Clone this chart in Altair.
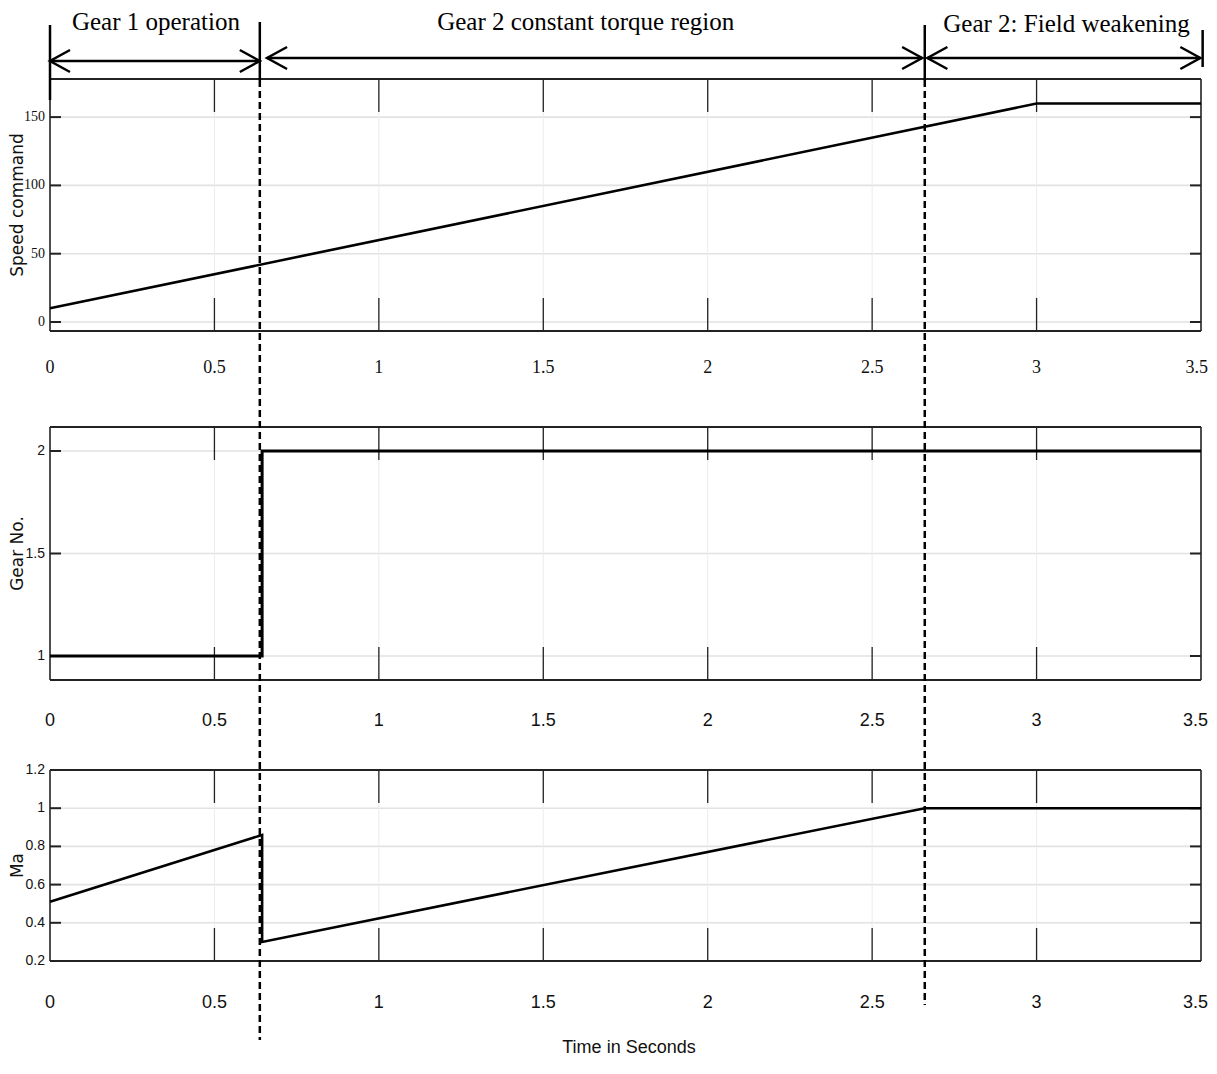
import altair as alt
import pandas as pd

# ---------------- data ----------------
speed_t = [0.0, 3.0, 3.5]
speed_v = [10, 160, 160]

gear_t = [0.0, 0.645, 0.645, 3.5]
gear_v = [1, 1, 2, 2]

ma_t = [0.0, 0.645, 0.645, 2.66, 3.5]
ma_v = [0.51, 0.86, 0.30, 1.0, 1.0]

x_ticks = [0, 0.5, 1, 1.5, 2, 2.5, 3, 3.5]
x_tick_labels = ["0", "0.5", "1", "1.5", "2", "2.5", "3", "3.5"]

speed_ticks = [0, 50, 100, 150]
speed_tick_labels = ["0", "50", "100", "150"]
gear_ticks = [1, 1.5, 2]
gear_tick_labels = ["1", "1.5", "2"]
ma_ticks = [0.2, 0.4, 0.6, 0.8, 1.0, 1.2]
ma_tick_labels = ["0.2", "0.4", "0.6", "0.8", "1", "1.2"]

switch_times = [0.638, 2.66]
region_names = ["Gear 1 operation", "Gear 2 constant torque region", "Gear 2: Field weakening"]
region_start = [0.0, 0.66, 2.668]
region_end = [0.638, 2.652, 3.498]
region_label_t = [0.322, 1.629, 3.091]

x_title = "Time in Seconds"

# ---------------- layout ----------------
W, H = 1151, 1052
XS = alt.Scale(domain=[0, 3.5], nice=False, zero=False)
PX = alt.Scale(domain=[0, H], range=[0, H], nice=False, zero=False)
NARROW = "Liberation Sans Narrow, Arial Narrow, Liberation Sans, Arial, sans-serif"
SERIF = "Liberation Serif, Times New Roman, serif"
DARK = "#222222"


def panel(t, v, dom, rng, ticks, labels, title, tick_font, label_dy, line_w=2.6):
    ys = alt.Scale(domain=dom, range=rng, nice=False, zero=False)
    X = lambda f: alt.X(f, scale=XS, axis=None)
    Y = lambda f: alt.Y(f, scale=ys, axis=None)

    line_df = pd.DataFrame({"t": t, "v": v})
    yt = pd.DataFrame({"v": ticks, "lab": labels})
    xt = pd.DataFrame({"t": x_ticks, "lab": x_tick_labels,
                       "lo": [dom[0]] * len(x_ticks), "hi": [dom[1]] * len(x_ticks)})
    xin = xt.iloc[1:-1]
    xmain = xt.iloc[:-1]
    xlast = xt.iloc[-1:]
    edges_h = pd.DataFrame({"v": [dom[0], dom[1]]})
    edges_v = pd.DataFrame({"t": [0, 3.5], "lo": [dom[0]] * 2, "hi": [dom[1]] * 2})
    ttl = pd.DataFrame({"v": [(dom[0] + dom[1]) / 2], "title": [title]})

    grid_h = alt.Chart(yt).mark_rule(color="#e2e2e2", strokeWidth=1.6).encode(
        y=Y("v:Q"), x=alt.value(0), x2=alt.value(W))
    grid_v = alt.Chart(xin).mark_rule(color="#ececec", strokeWidth=1).encode(
        x=X("t:Q"), y=Y("lo:Q"), y2="hi:Q")
    ticks_bot = alt.Chart(xin).mark_rule(color=DARK, strokeWidth=1.3, y2Offset=-33).encode(
        x=X("t:Q"), y=Y("lo:Q"), y2="lo:Q")
    ticks_top = alt.Chart(xin).mark_rule(color=DARK, strokeWidth=1.3, y2Offset=33).encode(
        x=X("t:Q"), y=Y("hi:Q"), y2="hi:Q")
    yticks_l = alt.Chart(yt).mark_rule(color=DARK, strokeWidth=2).encode(
        y=Y("v:Q"), x=alt.value(0), x2=alt.value(11))
    yticks_r = alt.Chart(yt).mark_rule(color=DARK, strokeWidth=2).encode(
        y=Y("v:Q"), x=alt.value(W - 11), x2=alt.value(W))
    border_h = alt.Chart(edges_h).mark_rule(color=DARK, strokeWidth=2.2).encode(
        y=Y("v:Q"), x=alt.value(0), x2=alt.value(W))
    border_v = alt.Chart(edges_v).mark_rule(color=DARK, strokeWidth=1.6).encode(
        x=X("t:Q"), y=Y("lo:Q"), y2="hi:Q")
    line = alt.Chart(line_df).mark_line(color="black", strokeWidth=line_w).encode(
        x=X("t:Q"), y=Y("v:Q"))
    ylab = alt.Chart(yt).mark_text(align="right", baseline="middle", font=tick_font,
                                   fontSize=14, color="#111111").encode(
        y=Y("v:Q"), x=alt.value(-5), text="lab:N")
    xlab = alt.Chart(xmain).mark_text(align="center", baseline="middle", font=tick_font,
                                      fontSize=18, dy=label_dy, color="#111111").encode(
        x=X("t:Q"), y=Y("lo:Q"), text="lab:N")
    xlab_last = alt.Chart(xlast).mark_text(align="right", baseline="middle", font=tick_font,
                                           fontSize=18, dy=label_dy, dx=7, color="#111111").encode(
        x=X("t:Q"), y=Y("lo:Q"), text="lab:N")
    ytitle = alt.Chart(ttl).mark_text(angle=270, align="center", baseline="alphabetic",
                                      font="DejaVu Sans", fontSize=17, color="#111111").encode(
        y=Y("v:Q"), x=alt.value(-27), text="title:N")

    return alt.layer(grid_h, grid_v, ticks_bot, ticks_top, yticks_l, yticks_r,
                     border_h, border_v, line, ylab, xlab, xlab_last, ytitle)


# plot-area pixel ranges (page y minus 8)
p_speed = panel(speed_t, speed_v, [-6.6, 177.9], [323, 71], speed_ticks, speed_tick_labels,
                "Speed command", SERIF, 37)
p_gear = panel(gear_t, gear_v, [0.883, 2.117], [672, 419], gear_ticks, gear_tick_labels,
               "Gear No.", NARROW, 41, line_w=3)
p_ma = panel(ma_t, ma_v, [0.2, 1.2], [953, 762], ma_ticks, ma_tick_labels,
             "Ma", NARROW, 42)

# ---------------- annotations ----------------
XA = lambda f: alt.X(f, scale=XS, axis=None)
YA = lambda f: alt.Y(f, scale=PX, axis=None)

dash_df = pd.DataFrame({"t": switch_times, "y0": [72, 72], "y1": [1032, 997]})
dashes = alt.Chart(dash_df).mark_rule(color="black", strokeWidth=2.5, strokeDash=[7, 4]).encode(
    x=XA("t:Q"), y=YA("y0:Q"), y2="y1:Q")

bars_df = pd.DataFrame({"t": [0.0, switch_times[0], switch_times[1], 3.505],
                        "y0": [17, 14, 17, 22], "y1": [92, 72, 72, 59]})
bars = alt.Chart(bars_df).mark_rule(color="black", strokeWidth=2.5).encode(
    x=XA("t:Q"), y=YA("y0:Q"), y2="y1:Q")

arr_df = pd.DataFrame({"t0": region_start, "t1": region_end, "y": [53, 50, 50]})
shafts = alt.Chart(arr_df).mark_rule(color="black", strokeWidth=2.5).encode(
    x=XA("t0:Q"), x2="t1:Q", y=YA("y:Q"))
heads_l = alt.Chart(arr_df).mark_point(shape="M1,-0.55L0,0L1,0.55", size=1600, filled=False,
                                       color="black", strokeWidth=2.5, opacity=1).encode(
    x=XA("t0:Q"), y=YA("y:Q"))
heads_r = alt.Chart(arr_df).mark_point(shape="M-1,-0.55L0,0L-1,0.55", size=1600, filled=False,
                                       color="black", strokeWidth=2.5, opacity=1).encode(
    x=XA("t1:Q"), y=YA("y:Q"))

reg_df = pd.DataFrame({"t": region_label_t, "name": region_names, "y": [22, 22, 24]})
reg_text = alt.Chart(reg_df).mark_text(font=SERIF, fontSize=25, align="center",
                                       baseline="alphabetic", color="black").encode(
    x=XA("t:Q"), y=YA("y:Q"), text="name:N")

xt_df = pd.DataFrame({"name": [x_title], "y": [1040]})
x_title_mark = alt.Chart(xt_df).mark_text(font=NARROW, fontSize=18, align="center",
                                          baseline="middle", color="#111111").encode(
    x=alt.value(579), y=YA("y:Q"), text="name:N")

overlay = alt.layer(dashes, bars, shafts, heads_l, heads_r, reg_text, x_title_mark)

chart = alt.layer(p_speed, p_gear, p_ma, overlay).resolve_scale(y="independent").properties(
    width=W, height=H,
    autosize=alt.AutoSizeParams(type="none"),
    padding={"left": 42, "top": 0, "right": 8, "bottom": 0},
    background="white",
).configure_view(stroke=None)

chart.save("out.html", embed_options={"renderer": "svg", "actions": False})
